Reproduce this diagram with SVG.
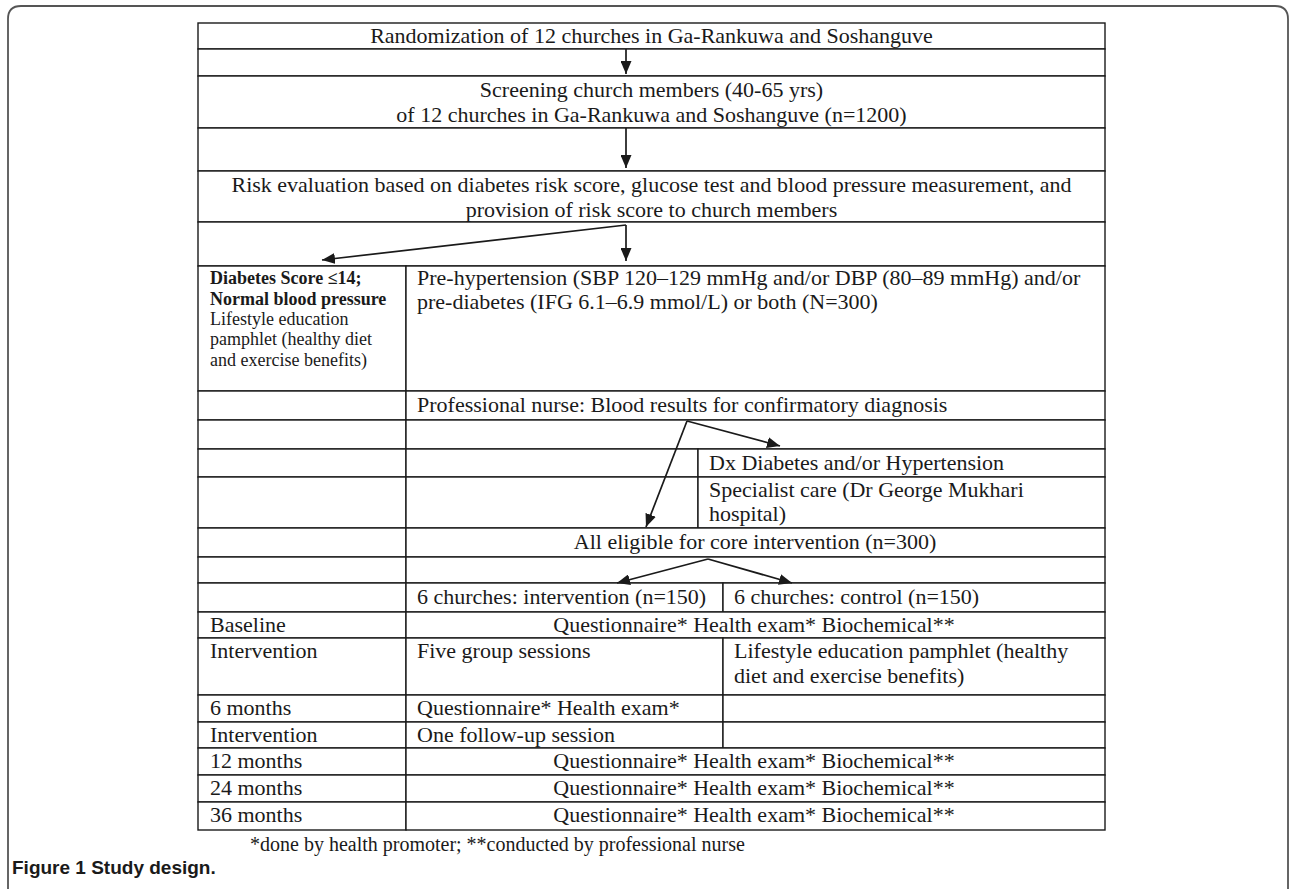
<svg xmlns="http://www.w3.org/2000/svg" width="1292" height="889" viewBox="0 0 1292 889">
<style>
.bg{fill:#ffffff}
.frame{fill:none;stroke:#555;stroke-width:1.8}
.cell{fill:#ffffff;stroke:#1a1a1a;stroke-width:1.4}
.t{font-family:"Liberation Serif","Times New Roman",serif;font-size:22px;fill:#1a1a1a}
.c{text-anchor:middle}
.s{font-family:"Liberation Serif","Times New Roman",serif;font-size:18px;fill:#1a1a1a}
.b{font-weight:bold}
.fn{font-family:"Liberation Serif","Times New Roman",serif;font-size:20px;fill:#1a1a1a}
.cap{font-family:"Liberation Sans",Arial,sans-serif;font-size:19px;font-weight:bold;fill:#1a1a1a}
.arr{fill:none;stroke:#1a1a1a;stroke-width:1.7;marker-end:url(#ah)}
</style>
<defs>
<marker id="ah" viewBox="0 0 13 11" refX="13" refY="5.5" markerWidth="13" markerHeight="11" markerUnits="userSpaceOnUse" orient="auto">
<path d="M0,0 L13,5.5 L0,11 z" fill="#1a1a1a"/>
</marker>
</defs>
<rect class="bg" x="0" y="0" width="1292" height="889"/>
<path class="frame" d="M8,895 L8,19 Q8,6 21,6 L1275,6 Q1288,6 1288,19 L1288,895"/>

<g id="r1"><rect class="cell" x="198" y="23" width="907" height="26"/><text class="t c" x="651.5" y="43">Randomization of 12 churches in Ga-Rankuwa and Soshanguve</text></g>
<g id="r2"><rect class="cell" x="198" y="49" width="907" height="27"/></g>
<g id="r3"><rect class="cell" x="198" y="76" width="907" height="52"/><text class="t c" x="651.5" y="97">Screening church members (40-65 yrs)</text><text class="t c" x="651.5" y="122">of 12 churches in Ga-Rankuwa and Soshanguve (n=1200)</text></g>
<g id="r4"><rect class="cell" x="198" y="128" width="907" height="43"/></g>
<g id="r5"><rect class="cell" x="198" y="171" width="907" height="51"/><text class="t c" x="651.5" y="192">Risk evaluation based on diabetes risk score, glucose test and blood pressure measurement, and</text><text class="t c" x="651.5" y="217">provision of risk score to church members</text></g>
<g id="r6"><rect class="cell" x="198" y="222" width="907" height="44"/></g>

<g id="r7a"><rect class="cell" x="198" y="266" width="208" height="125"/>
<text class="s b" x="210" y="284">Diabetes Score ≤14;</text>
<text class="s b" x="210" y="305">Normal blood pressure</text>
<text class="s" x="210" y="325">Lifestyle education</text>
<text class="s" x="210" y="345">pamphlet (healthy diet</text>
<text class="s" x="210" y="366">and exercise benefits)</text></g>
<g id="r7b"><rect class="cell" x="406" y="266" width="699" height="125"/>
<text class="t" x="417" y="285">Pre-hypertension (SBP 120–129 mmHg and/or DBP (80–89 mmHg) and/or</text>
<text class="t" x="417" y="309">pre-diabetes (IFG 6.1–6.9 mmol/L) or both  (N=300)</text></g>

<g id="r8a"><rect class="cell" x="198" y="391" width="208" height="29"/></g>
<g id="r8b"><rect class="cell" x="406" y="391" width="699" height="29"/><text class="t" x="417" y="412">Professional nurse: Blood results for confirmatory diagnosis</text></g>
<g id="r9a"><rect class="cell" x="198" y="420" width="208" height="29"/></g>
<g id="r9b"><rect class="cell" x="406" y="420" width="699" height="29"/></g>
<g id="r10a"><rect class="cell" x="198" y="449" width="208" height="28"/></g>
<g id="r10b"><rect class="cell" x="406" y="449" width="292" height="28"/></g>
<g id="r10c"><rect class="cell" x="698" y="449" width="407" height="28"/><text class="t" x="709" y="470">Dx Diabetes and/or Hypertension</text></g>
<g id="r11a"><rect class="cell" x="198" y="477" width="208" height="51"/></g>
<g id="r11b"><rect class="cell" x="406" y="477" width="292" height="51"/></g>
<g id="r11c"><rect class="cell" x="698" y="477" width="407" height="51"/><text class="t" x="709" y="497">Specialist care (Dr George Mukhari</text><text class="t" x="709" y="521">hospital)</text></g>
<g id="r12a"><rect class="cell" x="198" y="528" width="208" height="29"/></g>
<g id="r12b"><rect class="cell" x="406" y="528" width="699" height="29"/><text class="t c" x="755" y="549">All eligible for core intervention (n=300)</text></g>
<g id="r13a"><rect class="cell" x="198" y="557" width="208" height="26"/></g>
<g id="r13b"><rect class="cell" x="406" y="557" width="699" height="26"/></g>
<g id="r14a"><rect class="cell" x="198" y="583" width="208" height="29"/></g>
<g id="r14b"><rect class="cell" x="406" y="583" width="317" height="29"/><text class="t" x="417" y="604">6 churches: intervention (n=150)</text></g>
<g id="r14c"><rect class="cell" x="723" y="583" width="382" height="29"/><text class="t" x="734" y="604">6 churches: control (n=150)</text></g>
<g id="r15a"><rect class="cell" x="198" y="612" width="208" height="26"/><text class="t" x="210" y="632">Baseline</text></g>
<g id="r15b"><rect class="cell" x="406" y="612" width="699" height="26"/><text class="t c" x="754" y="632">Questionnaire* Health exam* Biochemical**</text></g>
<g id="r16a"><rect class="cell" x="198" y="638" width="208" height="57"/><text class="t" x="210" y="658">Intervention</text></g>
<g id="r16b"><rect class="cell" x="406" y="638" width="317" height="57"/><text class="t" x="417" y="658">Five group sessions</text></g>
<g id="r16c"><rect class="cell" x="723" y="638" width="382" height="57"/><text class="t" x="734" y="658">Lifestyle education pamphlet (healthy</text><text class="t" x="734" y="683">diet and exercise benefits)</text></g>
<g id="r17a"><rect class="cell" x="198" y="695" width="208" height="27"/><text class="t" x="210" y="715">6 months</text></g>
<g id="r17b"><rect class="cell" x="406" y="695" width="317" height="27"/><text class="t" x="417" y="715">Questionnaire* Health exam*</text></g>
<g id="r17c"><rect class="cell" x="723" y="695" width="382" height="27"/></g>
<g id="r18a"><rect class="cell" x="198" y="722" width="208" height="26"/><text class="t" x="210" y="742">Intervention</text></g>
<g id="r18b"><rect class="cell" x="406" y="722" width="317" height="26"/><text class="t" x="417" y="742">One follow-up session</text></g>
<g id="r18c"><rect class="cell" x="723" y="722" width="382" height="26"/></g>
<g id="r19a"><rect class="cell" x="198" y="748" width="208" height="27"/><text class="t" x="210" y="768">12 months</text></g>
<g id="r19b"><rect class="cell" x="406" y="748" width="699" height="27"/><text class="t c" x="754" y="768">Questionnaire* Health exam* Biochemical**</text></g>
<g id="r20a"><rect class="cell" x="198" y="775" width="208" height="27"/><text class="t" x="210" y="795">24 months</text></g>
<g id="r20b"><rect class="cell" x="406" y="775" width="699" height="27"/><text class="t c" x="754" y="795">Questionnaire* Health exam* Biochemical**</text></g>
<g id="r21a"><rect class="cell" x="198" y="802" width="208" height="28"/><text class="t" x="210" y="822">36 months</text></g>
<g id="r21b"><rect class="cell" x="406" y="802" width="699" height="28"/><text class="t c" x="754" y="822">Questionnaire* Health exam* Biochemical**</text></g>

<g id="connectors">
<path class="arr" d="M626,49 L626,74"/>
<path class="arr" d="M626,128 L626,168"/>
<path class="arr" d="M626,225 L626,261"/>
<path class="arr" d="M626,225 L322,260"/>
<path class="arr" d="M687,421 L780,446"/>
<path class="arr" d="M687,421 L646,527"/>
<path class="arr" d="M708,559 L617,583"/>
<path class="arr" d="M708,559 L792,583"/>
</g>

<g id="notes">
<text class="fn" x="250" y="851">*done by health promoter; **conducted by professional nurse</text>
<text class="cap" x="12" y="874">Figure 1 Study design.</text>
</g>
</svg>
